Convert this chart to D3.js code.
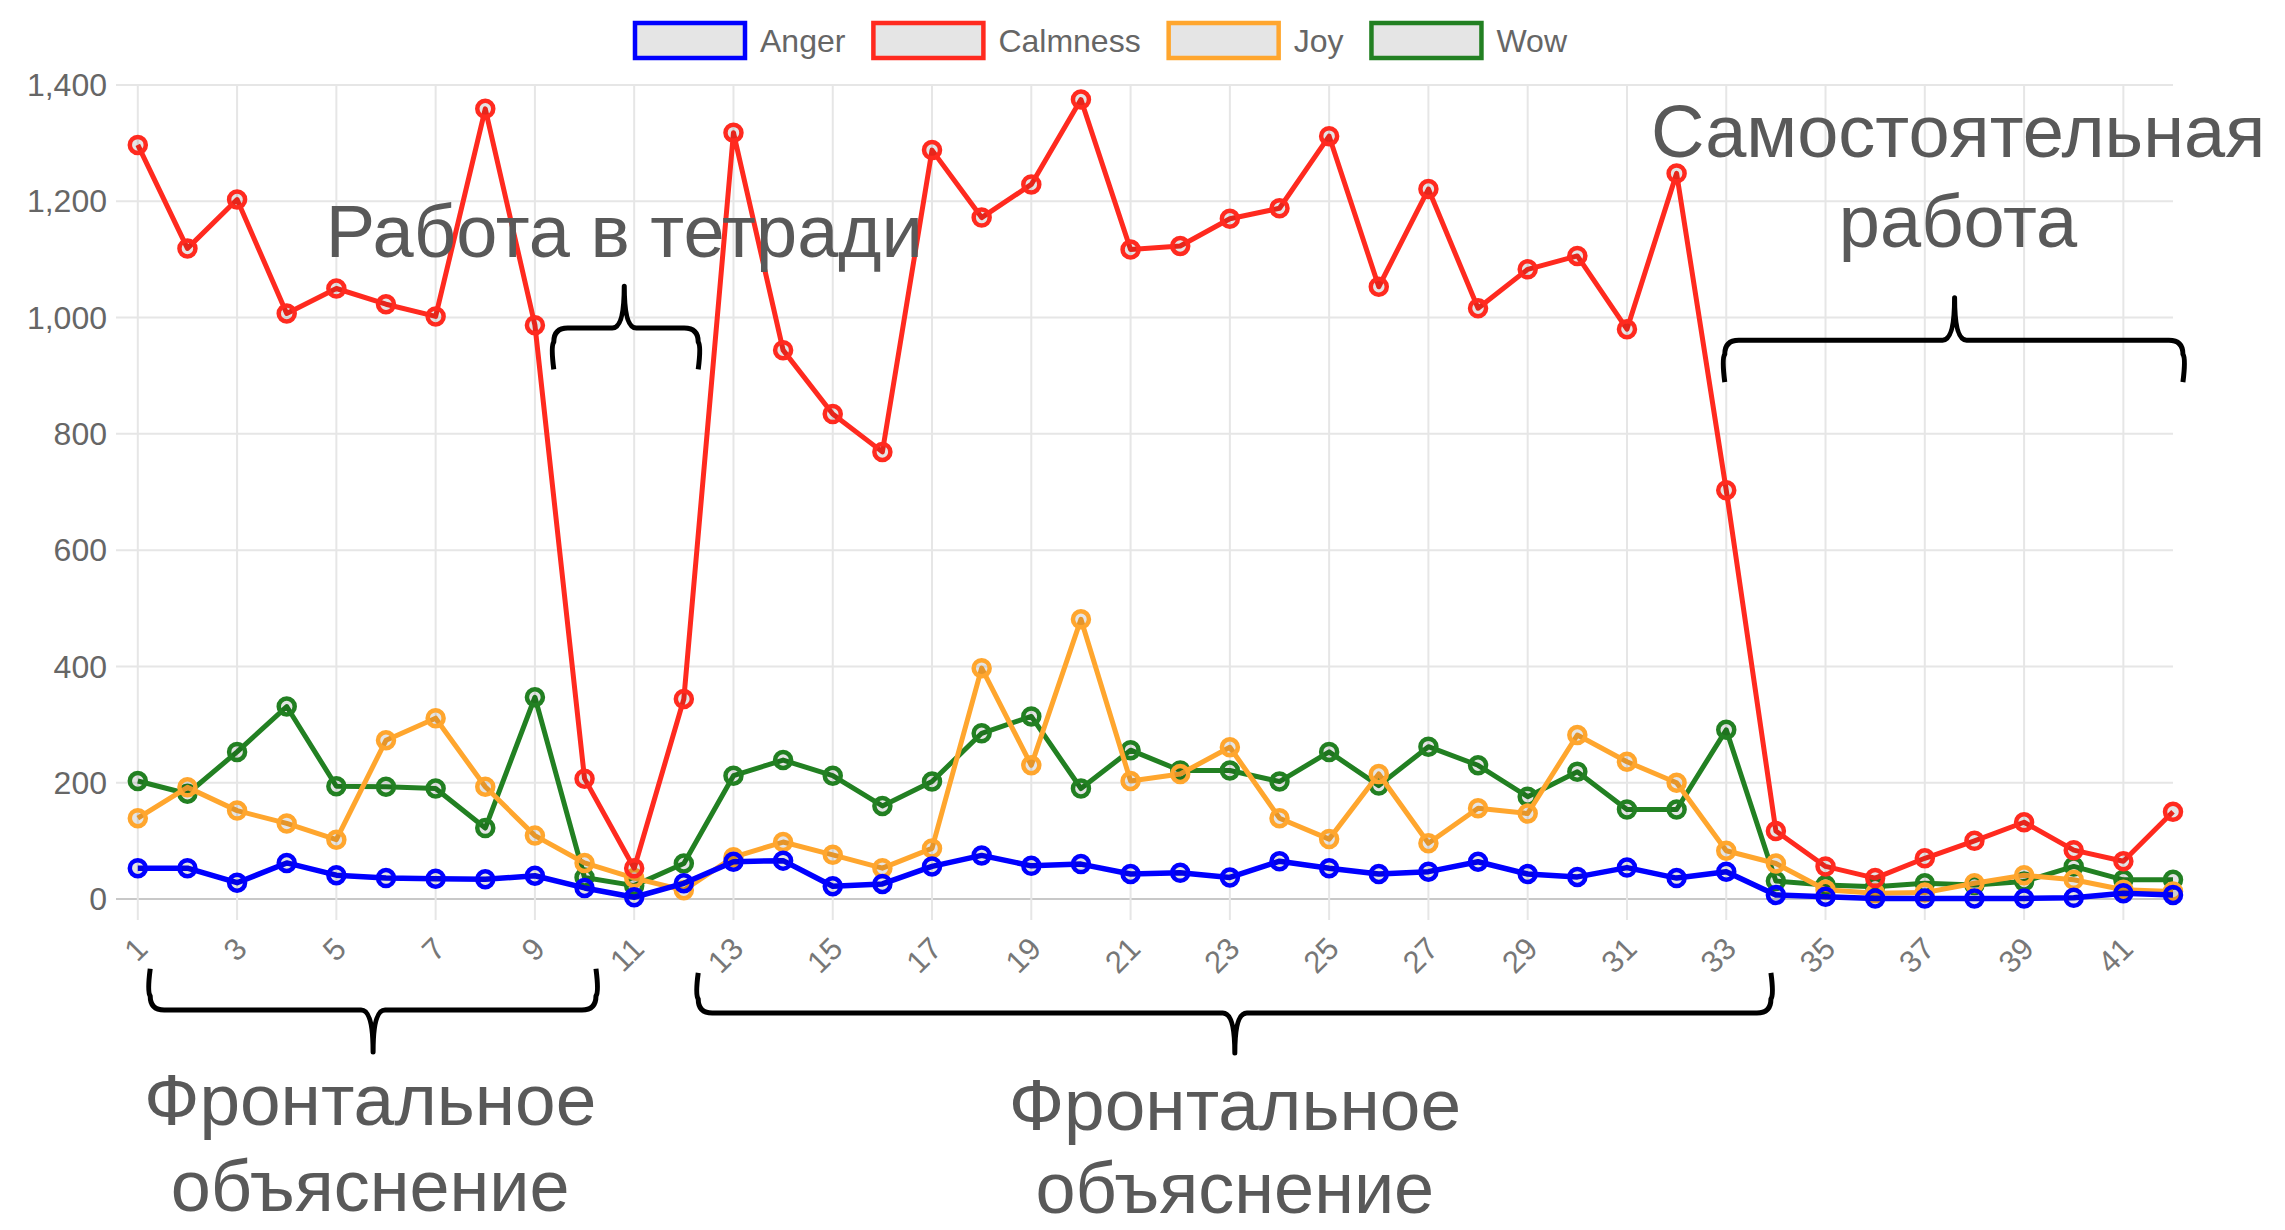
<!DOCTYPE html>
<html>
<head>
<meta charset="utf-8">
<script src="https://cdn.jsdelivr.net/npm/d3@7"></script>
<style>
  html, body { margin: 0; padding: 0; background: #fff; }
  svg { display: block; }
  text { font-family: "Liberation Sans", Arial, Helvetica, sans-serif; }
</style>
</head>
<body>
<script>
// ---------- data ----------
const labels = [1,2,3,4,5,6,7,8,9,10,11,12,13,14,15,16,17,18,19,20,21,22,23,24,25,26,27,28,29,30,31,32,33,34,35,36,37,38,39,40,41,42];
const seriesNames = ["Anger", "Calmness", "Joy", "Wow"];
const anger    = [53,53,28,62,41,36,35,34,40,19,3,27,64,66,22,26,56,75,57,60,43,45,37,65,53,43,47,64,43,38,54,36,47,7,4,1,1,1,1,2,10,7];
const calmness = [1297,1119,1203,1007,1050,1023,1002,1359,987,207,53,344,1318,944,834,769,1288,1172,1229,1375,1117,1123,1170,1188,1312,1053,1221,1016,1083,1106,980,1248,703,117,56,36,70,100,132,84,65,150];
const joy      = [139,192,152,130,102,273,311,193,109,62,36,15,72,98,76,53,87,397,230,481,203,215,261,139,103,215,96,156,147,282,236,200,83,61,16,10,11,27,41,33,16,13];
const wow      = [203,181,253,331,194,193,190,122,347,37,23,61,212,239,212,160,202,285,314,190,256,221,221,202,253,195,262,230,176,219,154,154,291,31,24,21,27,24,30,56,33,33];
const yTicks = [0,200,400,600,800,1000,1200,1400];

// annotations (in data space: x = label index, y = value)
const braceSpecs = [
  {x0: 9.38, x1: 12.29, xm: 10.8, yEnd: 911, yH: 982, yTip: 1054},
  {x0: 32.97, x1: 42.2, xm: 37.6, yEnd: 889, yH: 961, yTip: 1034},
  {x0: 1.25, x1: 10.23, xm: 5.74, yEnd: -120, yH: -191, yTip: -263},
  {x0: 12.29, x1: 33.9, xm: 23.1, yEnd: -127, yH: -196, yTip: -265}
];
const noteSpecs = [
  {x: 10.8, y: 1104, size: 74, text: "Работа в тетради"},
  {x: 37.67, y: 1276, size: 74, text: "Самостоятельная"},
  {x: 37.67, y: 1121, size: 74, text: "работа"},
  {x: 5.68, y: -389, size: 73, text: "Фронтальное"},
  {x: 5.68, y: -536, size: 72, text: "объяснение"},
  {x: 23.1, y: -397, size: 73, text: "Фронтальное"},
  {x: 23.1, y: -540, size: 72, text: "объяснение"}
];

// ---------- layout ----------
const W = 2285, H = 1230;
const colors = {Anger: "#0000ff", Calmness: "#ff2a1f", Joy: "#ffa62e", Wow: "#228022"};
const seriesData = {Anger: anger, Calmness: calmness, Joy: joy, Wow: wow};

const svg = d3.select("body").append("svg").attr("width", W).attr("height", H);
svg.append("rect").attr("width", W).attr("height", H).attr("fill", "#fff");

const x = d3.scaleLinear().domain([1, 42]).range([137.8, 2173]);
const y = d3.scaleLinear().domain([0, 1400]).range([899, 85]);

// grid
const grid = svg.append("g");
grid.selectAll("line.h").data(yTicks).join("line")
  .attr("x1", 116).attr("x2", x(42))
  .attr("y1", d => y(d)).attr("y2", d => y(d))
  .attr("stroke", d => d === 0 ? "#c8c8c8" : "#e6e6e6").attr("stroke-width", 2);
const shownLabels = labels.filter((d, i) => i % 2 === 0);
grid.selectAll("line.v").data(shownLabels).join("line")
  .attr("x1", d => x(d)).attr("x2", d => x(d))
  .attr("y1", y(1400)).attr("y2", y(0) + 21)
  .attr("stroke", "#e6e6e6").attr("stroke-width", 2);

// y axis labels
svg.append("g").selectAll("text").data(yTicks).join("text")
  .attr("x", 107).attr("y", d => y(d)).attr("dy", "0.35em")
  .attr("text-anchor", "end").attr("font-size", 32).attr("fill", "#666")
  .text(d => d3.format(",")(d));

// x axis labels (rotated)
svg.append("g").selectAll("text").data(shownLabels).join("text")
  .attr("transform", d => `translate(${x(d) + 4},${y(0) + 44}) rotate(-45)`)
  .attr("text-anchor", "end").attr("dy", "0.35em")
  .attr("font-size", 31).attr("fill", "#777")
  .text(d => d);

// series (draw last dataset first so Anger is on top)
const line = d3.line().x((d, i) => x(labels[i])).y(d => y(d));
const order = seriesNames.slice().reverse();
order.forEach(name => {
  const g = svg.append("g");
  g.append("path").datum(seriesData[name])
    .attr("d", line).attr("fill", "none")
    .attr("stroke", colors[name]).attr("stroke-width", name === "Anger" ? 5.5 : 5)
    .attr("stroke-linejoin", "round");
  g.selectAll("circle").data(seriesData[name]).join("circle")
    .attr("cx", (d, i) => x(labels[i])).attr("cy", d => y(d)).attr("r", 8)
    .attr("fill", "rgba(0,0,0,0.1)").attr("stroke", colors[name]).attr("stroke-width", 4.5);
});

// legend
const legend = svg.append("g");
let lx = 635;
seriesNames.forEach(name => {
  legend.append("rect").attr("x", lx).attr("y", 23).attr("width", 110).attr("height", 35)
    .attr("fill", "#e5e5e5").attr("stroke", colors[name]).attr("stroke-width", 4.5);
  const t = legend.append("text").attr("x", lx + 125).attr("y", 41).attr("dy", "0.35em")
    .attr("font-size", 32).attr("fill", "#666").text(name);
  const w = t.node().getComputedTextLength();
  lx += 125 + w + 28;
});

// braces
function bracePath(s) {
  const x0 = x(s.x0), x1 = x(s.x1), xm = x(s.xm);
  const yE = y(s.yEnd), yH = y(s.yH), yT = y(s.yTip);
  const sg = Math.sign(yE - yH);
  const r = 14, r2 = 12;
  return `M${x0},${yE} Q${x0 - 3},${yH + sg * 18} ${x0},${yH + sg * r} Q${x0},${yH} ${x0 + r},${yH}` +
         ` L${xm - r2},${yH} Q${xm},${yH} ${xm},${yT} Q${xm},${yH} ${xm + r2},${yH}` +
         ` L${x1 - r},${yH} Q${x1},${yH} ${x1},${yH + sg * r} Q${x1 + 3},${yH + sg * 18} ${x1},${yE}`;
}
svg.append("g").selectAll("path").data(braceSpecs).join("path")
  .attr("d", bracePath).attr("fill", "none").attr("stroke", "#000").attr("stroke-width", 5)
  .attr("stroke-linejoin", "round");

// annotation texts
svg.append("g").selectAll("text").data(noteSpecs).join("text")
  .attr("x", d => x(d.x)).attr("y", d => y(d.y))
  .attr("text-anchor", "middle").attr("font-size", d => d.size).attr("fill", "#595959")
  .text(d => d.text);
</script>
</body>
</html>
